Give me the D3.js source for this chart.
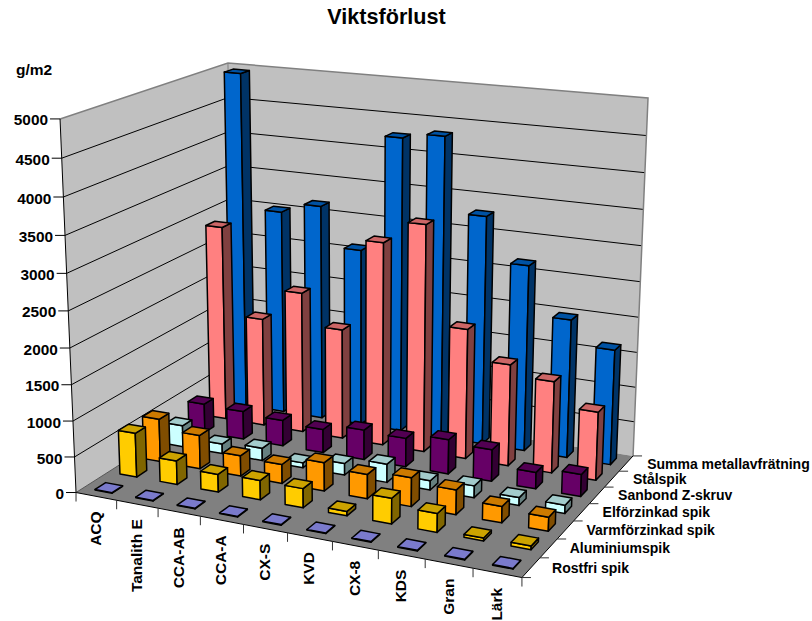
<!DOCTYPE html>
<html>
<head>
<meta charset="utf-8">
<script src="https://cdn.jsdelivr.net/npm/d3@7"></script>
<style>
  html, body { margin: 0; padding: 0; background: #fff; }
  svg { display: block; }
  text { font-family: "Liberation Sans", Arial, sans-serif; font-weight: bold; fill: #000; }
</style>
</head>
<body>
<svg id="chart" width="812" height="621"></svg>
<script>
const categories = ["ACQ", "Tanalith E", "CCA-AB", "CCA-A", "CX-S", "KVD", "CX-8", "KDS", "Gran", "Lärk"];
const seriesNames = ["Rostfri spik", "Aluminiumspik", "Varmförzinkad spik", "Elförzinkad spik", "Sanbond Z-skruv", "Stålspik", "Summa metallavfrätning"];
const rostfri   = [8, 8, 8, 8, 8, 8, 8, 8, 8, 8];
const aluminium = [625, 335, 250, 270, 265, 60, 350, 255, 40, 50];
const varm      = [615, 480, 290, 270, 400, 340, 400, 340, 223, 190];
const elforz    = [310, 140, 180, 70, 165, 260, 130, 165, 110, 115];
const sanbond   = [425, 410, 375, 340, 430, 410, 490, 450, 233, 310];
const stal      = [2865, 1590, 2053, 1600, 2927, 3250, 1860, 1445, 1300, 965];
const summa     = [4955, 3010, 3160, 2590, 4255, 4335, 3285, 2665, 1980, 1640];
const seriesValues = [rostfri, aluminium, varm, elforz, sanbond, stal, summa];
const seriesColors = ["#9999FF", "#FFCC00", "#FF9900", "#CCFFFF", "#660066", "#FF8080", "#0066CC"];
const valueTicks = d3.range(0, 5001, 500);

const svg = d3.select("#chart");

// Unit-cube scales: x along the categories, y up the value axis, z into the depth.
const xBand = d3.scaleBand().domain(categories).range([0, 1]).paddingInner(0.58).paddingOuter(0.29);
const zBand = d3.scaleBand().domain(seriesNames).range([0, 1]).paddingInner(0.58).paddingOuter(0.29);
const yScale = d3.scaleLinear().domain([0, 5000]).range([0, 1]);
const xStep = d3.scaleLinear().domain([0, categories.length]).range([0, 1]);
const zStep = d3.scaleLinear().domain([0, seriesNames.length]).range([0, 1]);

// Camera: a projective matrix fitted to where the plot box corners land on screen.
const boxCorners = [
  [[0, 0, 0], [76, 492.5]],
  [[1, 0, 0], [522, 577.5]],
  [[1, 0, 1], [633, 456]],
  [[0, 0, 1], [234, 392]],
  [[0, 1, 0], [60, 119]],
  [[0, 1, 1], [228, 63]],
  [[1, 1, 1], [648, 98]]
];

function fitCamera(pairs) {
  const rows = [], rhs = [];
  pairs.forEach(([[X, Y, Z], [u0, v0]]) => {
    const u = u0 / 1000, v = v0 / 1000;
    rows.push([X, Y, Z, 1, 0, 0, 0, 0, -u * X, -u * Y, -u * Z]); rhs.push(u);
    rows.push([0, 0, 0, 0, X, Y, Z, 1, -v * X, -v * Y, -v * Z]); rhs.push(v);
  });
  const n = 11;
  const A = d3.range(n).map(i => d3.range(n + 1).map(j =>
    j < n ? d3.sum(rows, r => r[i] * r[j]) : d3.sum(rows, (r, k) => r[i] * rhs[k])));
  for (let c = 0; c < n; c++) {
    let p = c;
    for (let r = c + 1; r < n; r++) if (Math.abs(A[r][c]) > Math.abs(A[p][c])) p = r;
    [A[c], A[p]] = [A[p], A[c]];
    for (let r = 0; r < n; r++) {
      if (r === c) continue;
      const f = A[r][c] / A[c][c];
      for (let j = c; j <= n; j++) A[r][j] -= f * A[c][j];
    }
  }
  return A.map((row, i) => row[n] / row[i]);
}

const cam = fitCamera(boxCorners);
function project(x, y, z) {
  const w = cam[8] * x + cam[9] * y + cam[10] * z + 1;
  return [
    1000 * (cam[0] * x + cam[1] * y + cam[2] * z + cam[3]) / w,
    1000 * (cam[4] * x + cam[5] * y + cam[6] * z + cam[7]) / w
  ];
}
const poly = pts => pts.map(p => project(p[0], p[1], p[2]));
const line = d3.line();

// Walls and floor
const wallFill = "#C0C0C0", floorFill = "#808080", edge = "#808080";
const walls = svg.append("g");
walls.append("path").attr("d", line(poly([[0,0,0],[0,1,0],[0,1,1],[0,0,1]])) + "Z").attr("fill", wallFill);
walls.append("path").attr("d", line(poly([[0,0,1],[0,1,1],[1,1,1],[1,0,1]])) + "Z").attr("fill", wallFill);
walls.append("path").attr("d", line(poly([[0,0,0],[1,0,0],[1,0,1],[0,0,1]])) + "Z").attr("fill", floorFill);

// Gridlines on both walls
valueTicks.slice(1, -1).forEach(v => {
  const y = yScale(v);
  walls.append("path").attr("d", line(poly([[0,y,0],[0,y,1],[1,y,1]])))
    .attr("fill", "none").attr("stroke", "#000").attr("stroke-width", 1);
});
walls.append("path").attr("d", line(poly([[0,1,0],[0,1,1],[1,1,1],[1,0,1]])))
  .attr("fill", "none").attr("stroke", edge).attr("stroke-width", 1.5);
walls.append("path").attr("d", line(poly([[0,1,1],[0,0,1]])))
  .attr("fill", "none").attr("stroke", edge).attr("stroke-width", 1);
walls.append("path").attr("d", line(poly([[0,0,0],[0,0,1]])))
  .attr("fill", "none").attr("stroke", "#555").attr("stroke-width", 1);
walls.append("path").attr("d", line(poly([[0,1,0],[0,0,0],[1,0,0],[1,0,1]])))
  .attr("fill", "none").attr("stroke", "#000").attr("stroke-width", 1);

// Column faces, painted from the back row forward and left to right within a row
const scaleColor = (c, k) => { const q = d3.rgb(c); return d3.rgb(q.r * k, q.g * k, q.b * k).formatHex(); };
const bars = svg.append("g").attr("stroke", "#000").attr("stroke-width", 1.5).attr("stroke-linejoin", "round");
d3.range(seriesNames.length - 1, -1, -1).forEach(s => {
  const name = seriesNames[s], color = seriesColors[s];
  const z0 = zBand(name), z1 = z0 + zBand.bandwidth();
  categories.forEach((cat, i) => {
    const x0 = xBand(cat), x1 = x0 + xBand.bandwidth();
    const h = yScale(seriesValues[s][i]);
    const g = bars.append("g");
    g.append("path").attr("d", line(poly([[x0,0,z0],[x1,0,z0],[x1,h,z0],[x0,h,z0]])) + "Z").attr("fill", color);
    g.append("path").attr("d", line(poly([[x1,0,z0],[x1,0,z1],[x1,h,z1],[x1,h,z0]])) + "Z").attr("fill", scaleColor(color, 0.5));
    g.append("path").attr("d", line(poly([[x0,h,z0],[x1,h,z0],[x1,h,z1],[x0,h,z1]])) + "Z").attr("fill", scaleColor(color, 0.8));
  });
});

// Value axis
const axisG = svg.append("g");
valueTicks.forEach(v => {
  const [px, py] = project(0, yScale(v), 0);
  axisG.append("line").attr("x1", px - 10).attr("x2", px).attr("y1", py).attr("y2", py)
    .attr("stroke", "#000").attr("stroke-width", 1);
  axisG.append("text").attr("x", px - 12).attr("y", py + 1).attr("dy", "0.36em")
    .attr("text-anchor", "end").attr("font-size", 15.4).text(v);
});

// Category axis
d3.range(categories.length + 1).forEach(i => {
  const [px, py] = project(xStep(i), 0, 0);
  axisG.append("line").attr("x1", px).attr("x2", px).attr("y1", py).attr("y2", py + 9)
    .attr("stroke", "#333").attr("stroke-width", 1);
});
categories.forEach((cat, i) => {
  const [px, py] = project(xStep(i + 0.5), 0, 0);
  axisG.append("text")
    .attr("transform", `translate(${px - 1},${py + 15}) rotate(-90)`)
    .attr("dy", "0.36em").attr("text-anchor", "end").attr("font-size", 15.5).text(cat);
});

// Depth axis
d3.range(seriesNames.length + 1).forEach(i => {
  const [px, py] = project(1, 0, zStep(i));
  axisG.append("line").attr("x1", px).attr("x2", px + 9).attr("y1", py).attr("y2", py)
    .attr("stroke", "#333").attr("stroke-width", 1);
});
seriesNames.forEach((name, i) => {
  const [px, py] = project(1, 0, zStep(i + 0.5));
  axisG.append("text").attr("x", px + 21).attr("y", py).attr("dy", "0.36em")
    .attr("font-size", 14).text(name);
});

// Titles
svg.append("text").attr("x", 386.5).attr("y", 24).attr("text-anchor", "middle").attr("font-size", 21.6).text("Viktsförlust");
svg.append("text").attr("x", 16).attr("y", 75).attr("font-size", 15.5).text("g/m2");
</script>
</body>
</html>
